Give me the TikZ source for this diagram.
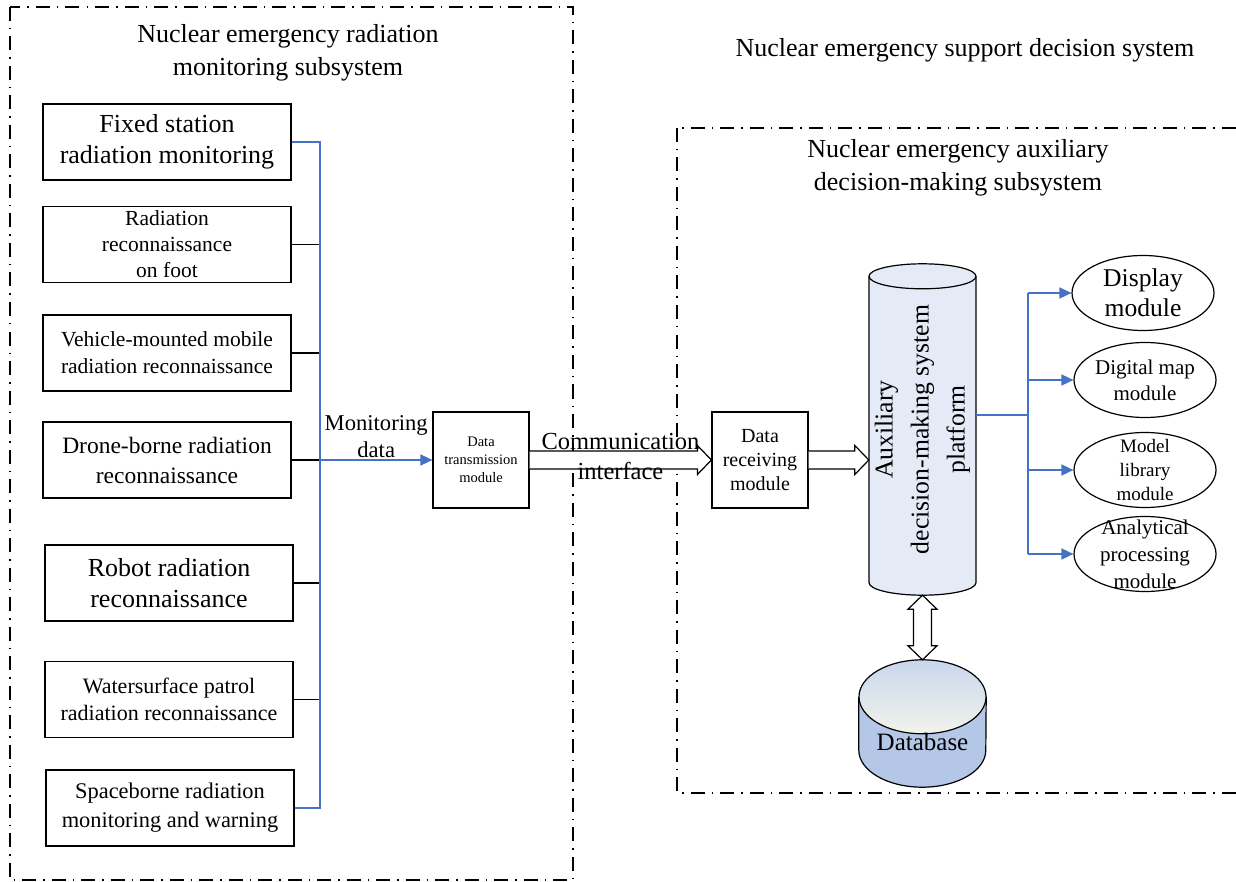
\documentclass[tikz,border=0pt]{standalone}
\usepackage{fontspec}
\setmainfont{Liberation Serif}
\usetikzlibrary{arrows.meta,shapes.geometric,calc,backgrounds}

\definecolor{linkblue}{HTML}{4472C4}
\definecolor{platfill}{HTML}{E4EBF7}
\definecolor{dbside}{HTML}{B4C7E7}
\definecolor{dbmid}{HTML}{E8EDF5}
\definecolor{dbtopa}{HTML}{C9D6EC}
\definecolor{dbtopb}{HTML}{F2F3EC}

\newcommand{\fsz}[2]{\fontsize{#1}{#2}\selectfont}

\begin{document}
\begin{tikzpicture}[x=1pt, y=-1pt,
  srcbox/.style  = {draw, line width=1.2pt, minimum width=248,
                    minimum height=76, align=center, inner sep=1pt},
  modbox/.style  = {draw, line width=1.2pt, minimum width=96,
                    minimum height=96, align=center, inner sep=1pt},
  outmod/.style  = {draw, ellipse, line width=1.2pt, minimum width=142,
                    minimum height=75, inner sep=-20pt, align=center},
  platf/.style   = {rotate=90, minimum width=331, minimum height=107,
                    inner sep=0pt, align=center, font=\fsz{25.7}{36}},
  dbase/.style   = {minimum width=127, minimum height=90, inner sep=0pt,
                    font=\fsz{25}{30}},
  cyl/.style     = {draw=black, line width=1.2pt},
  frame/.style   = {line width=1.2pt, dash pattern=on 14pt off 7pt on 1.5pt off 7pt},
  ttl/.style     = {align=center, font=\fsz{26}{33}},
  bline/.style   = {linkblue, line width=1.5pt},
  blarr/.style   = {bline, -{Triangle[length=12pt,width=11pt]}},
  stub/.style    = {line width=1.5pt},
  hollowarr/.style = {draw, fill=white, line width=1.2pt,
    to path={let \p1=(\tikztostart), \p2=(\tikztotarget) in
      (\x1,{\y1+9pt}) -- ({\x2-14pt},{\y1+9pt}) -- ({\x2-14pt},{\y1+14.5pt})
      -- (\x2,\y1) -- ({\x2-14pt},{\y1-14.5pt}) -- ({\x2-14pt},{\y1-9pt})
      -- (\x1,{\y1-9pt})}},
  dblarr/.style  = {draw, fill=white, line width=1.2pt,
    to path={let \p1=(\tikztostart), \p2=(\tikztotarget) in
      (\x1,\y1) -- ({\x1+14.5pt},{\y1-14pt}) -- ({\x1+9pt},{\y1-14pt})
      -- ({\x1+9pt},{\y2+14pt}) -- ({\x1+14.5pt},{\y2+14pt}) -- (\x1,\y2)
      -- ({\x1-14.5pt},{\y2+14pt}) -- ({\x1-9pt},{\y2+14pt})
      -- ({\x1-9pt},{\y1-14pt}) -- ({\x1-14.5pt},{\y1-14pt}) -- cycle}},
]
\useasboundingbox (0,0) rectangle (1236,882);

% Subsystem frames
\draw[frame] (10,7) rectangle (573,880);
\draw[frame] (677,128) rectangle (1250,793);

\node[ttl] (t1) at (288,53)  {Nuclear emergency radiation\\monitoring subsystem};
\node[ttl] (t0) at (965,50)  {Nuclear emergency support decision system};
\node[ttl] (t2) at (958,168) {Nuclear emergency auxiliary\\decision-making subsystem};

% Monitoring sources
\node[srcbox, font=\fsz{26}{31}]   (fix)   at (167,142)   {Fixed station\\radiation monitoring};
\node[srcbox, font=\fsz{21.5}{26}] (foot)  at (167,244.5) {Radiation\\reconnaissance\\on foot};
\node[srcbox, font=\fsz{21.5}{27}] (veh)   at (167,353)   {Vehicle-mounted mobile\\radiation reconnaissance};
\node[srcbox, font=\fsz{23.5}{30}] (drone) at (167,460)   {Drone-borne radiation\\reconnaissance};
\node[srcbox, font=\fsz{26}{31}]   (robot) at (169,583)   {Robot radiation\\reconnaissance};
\node[srcbox, font=\fsz{22}{27}]   (water) at (169,699.5) {Watersurface patrol\\radiation reconnaissance};
\node[srcbox, font=\fsz{22.4}{29}] (space) at (170,808)   {Spaceborne radiation\\monitoring and warning};

\node[modbox, font=\fsz{14.5}{18}] (dtm) at (481,460) {Data\\transmission\\module};
\node[modbox, font=\fsz{20}{24}]   (drm) at (760,460) {Data\\receiving\\module};

\node[platf] (plat) at (922.5,429.5) {Auxiliary\\decision-making system\\platform};
\node[dbase] (db) at (922.5,742) {Database};

\node[outmod, font=\fsz{25.6}{30}] (disp) at (1143,293) {Display\\module};
\node[outmod, font=\fsz{21}{26}]   (gis)  at (1145,380) {Digital map\\module};
\node[outmod, font=\fsz{19}{24}]   (mlib) at (1145,470) {Model\\library\\module};
\node[outmod, font=\fsz{21}{27}]   (anal) at (1145,554) {Analytical\\processing\\module};

% Cylinder bodies behind the platform and database texts
\begin{scope}[on background layer]
  \draw[cyl, fill=platfill]
    ([shift={(-53.5pt,-12.5pt)}]plat.east) -- ([shift={(-53.5pt,12.5pt)}]plat.west)
    arc[start angle=180, end angle=360, x radius=53.5pt, y radius=12.5pt]
    -- ([shift={(53.5pt,-12.5pt)}]plat.east)
    arc[start angle=0, end angle=180, x radius=53.5pt, y radius=12.5pt] -- cycle;
  \draw[cyl] ([shift={(-53.5pt,-12.5pt)}]plat.east)
    arc[start angle=180, end angle=360, x radius=53.5pt, y radius=12.5pt];
  \draw[cyl, left color=dbside, middle color=dbmid, right color=dbside]
    (db.north west) -- ([yshift=37pt]db.south west)
    arc[start angle=180, end angle=360, x radius=63.5pt, y radius=37pt]
    -- (db.north east);
  \draw[cyl, top color=dbtopa, bottom color=dbtopb]
    (db.north) ellipse[x radius=63.5pt, y radius=37pt];
\end{scope}

% Collecting bus (left)
\coordinate (lbus) at (320,142);
\foreach \b in {foot,veh,drone,robot,water}
  \draw[stub] (\b.east) -- (\b.east -| lbus);
\draw[bline] (fix.east) -- (fix.east -| lbus) -- (space.east -| lbus) -- (space.east);
\draw[blarr] (drone.east -| lbus)
  -- node[above, inner sep=2pt, text=black, font=\fsz{22.6}{27}, align=center] {Monitoring\\data}
  (dtm.west);

% Transfer to the decision side
\draw[hollowarr] (dtm.east) to (drm.west);
\node[font=\fsz{24.5}{30}, align=center] (comm)
  at ($(dtm.east)!0.5!(drm.west)+(0,-3)$) {Communication\\interface};
\draw[hollowarr] (drm.east) to (drm.east -| plat.north);
\draw[dblarr] (plat.west) to ([yshift=37pt]db.north);

% Output bus (right)
\coordinate (rbus) at (1028,415);
\draw[bline] (rbus -| plat.south) -- (rbus);
\draw[bline] (rbus |- disp.west) -- (rbus |- anal.west);
\foreach \e in {disp,gis,mlib,anal}
  \draw[blarr] (rbus |- \e.west) -- (\e.west);

\end{tikzpicture}
\end{document}
